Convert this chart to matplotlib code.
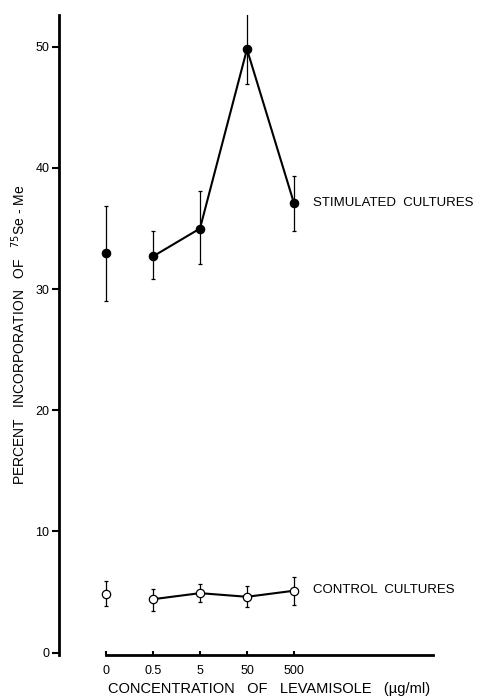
import numpy as np
import matplotlib
matplotlib.use('Agg')
import matplotlib.pyplot as plt

plt.rcParams['font.family'] = ['Liberation Sans', 'DejaVu Sans']

conc_labels = ['0', '0.5', '5', '50', '500']

stim_mean = [33.0, 32.7, 35.0, 49.8, 37.1]
stim_low = [29.0, 30.8, 32.1, 46.9, 34.8]
stim_high = [36.9, 34.8, 38.1, 52.9, 39.3]

ctrl_mean = [4.85, 4.4, 4.9, 4.6, 5.1]
ctrl_low = [3.8, 3.4, 4.2, 3.75, 3.9]
ctrl_high = [5.9, 5.25, 5.65, 5.45, 6.2]

x = np.arange(len(conc_labels))

fig = plt.figure(figsize=(4.8, 6.96), dpi=100)
ax = fig.add_axes([0.123, 0.059, 0.783, 0.919])


def plot_series(mean, low, high, face):
    mean = np.array(mean)
    yerr = [mean - np.array(low), np.array(high) - mean]
    ax.errorbar(x, mean, yerr=yerr, fmt='none', ecolor='black',
                elinewidth=0.9, capsize=1.2, capthick=0.9, zorder=2)
    # 0 is not joined to the rest
    ax.plot(x[1:], mean[1:], color='black', lw=1.5, zorder=3)
    ax.plot(x, mean, 'o', ms=6, mfc=face, mec='black', mew=0.9, zorder=4)


plot_series(stim_mean, stim_low, stim_high, 'black')
plot_series(ctrl_mean, ctrl_low, ctrl_high, 'white')

ax.text(4.4, stim_mean[-1], 'STIMULATED  CULTURES', va='center', ha='left', fontsize=9.5)
ax.text(4.4, ctrl_mean[-1] + 0.1, 'CONTROL  CULTURES', va='center', ha='left', fontsize=9.5)

ax.set_xlim(-1, 7)
ax.set_ylim(-0.2, 52.6)

for s in ['top', 'right']:
    ax.spines[s].set_visible(False)
ax.spines['left'].set_linewidth(2)
ax.spines['bottom'].set_linewidth(2)
ax.spines['bottom'].set_bounds(0, 6.95)

ax.set_xticks(x)
ax.set_xticklabels(conc_labels, fontsize=9)
ax.set_yticks([0, 10, 20, 30, 40, 50])
ax.tick_params(axis='y', direction='out', length=5, width=1.5, labelsize=9, pad=2)
ax.tick_params(axis='x', direction='in', length=3, width=1.5, pad=7)

ax.set_xlabel('CONCENTRATION   OF   LEVAMISOLE   (\u00b5g/ml)', fontsize=10.5)
ax.xaxis.set_label_coords(0.56, -0.043)
ax.set_ylabel('PERCENT   INCORPORATION   OF   $^{75}$Se - Me', fontsize=10, labelpad=5)

fig.savefig('out.png', dpi=100)
